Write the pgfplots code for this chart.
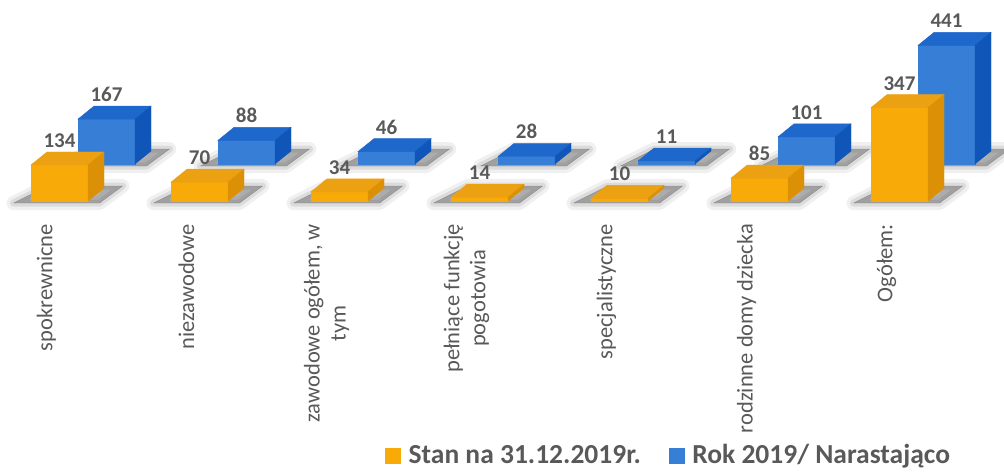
\documentclass[border=0pt]{standalone}
\usepackage{pgfplots}
\pgfplotsset{compat=1.18}
\usepackage{fontspec}
\setmainfont{Carlito}
\definecolor{orF}{RGB}{247,170,8}
\definecolor{orT}{RGB}{236,161,18}
\definecolor{orS}{RGB}{220,144,6}
\definecolor{blF}{RGB}{55,126,214}
\definecolor{blT}{RGB}{30,104,204}
\definecolor{blS}{RGB}{16,86,184}
\definecolor{txt}{RGB}{89,89,89}
\definecolor{shd}{RGB}{70,70,70}

% cuboid drawn at the data point (top centre of the front face), offset by (#1,#2) pt
\newcommand\drawcuboid[5]{%
 \pgfmathsetmacro\hh{\val*0.269}%
 \pgfmathsetmacro\cL{#1-28.5}\pgfmathsetmacro\cR{#1+28.5}%
 \pgfmathsetmacro\cRR{#1+44.5}\pgfmathsetmacro\cLL{#1-12.5}%
 \pgfmathsetmacro\cT{#2}\pgfmathsetmacro\cTT{#2+13}%
 \pgfmathsetmacro\cB{#2-\hh}\pgfmathsetmacro\cBB{#2+13-\hh}%
 \pgfmathsetmacro\sA{#1-46}\pgfmathsetmacro\sB{#1+40}%
 \pgfmathsetmacro\sC{#1+63}\pgfmathsetmacro\sD{#1-12}%
 \pgfmathsetmacro\sY{#2-\hh-2}\pgfmathsetmacro\sZ{#2-\hh+15}%
 \draw[shd, opacity=0.08, line width=14pt, line join=round] (\sA pt,\sY pt) -- (\sB pt,\sY pt) -- (\sC pt,\sZ pt) -- (\sD pt,\sZ pt) -- cycle;
 \draw[shd, opacity=0.12, line width=7pt, line join=round] (\sA pt,\sY pt) -- (\sB pt,\sY pt) -- (\sC pt,\sZ pt) -- (\sD pt,\sZ pt) -- cycle;
 \fill[shd, opacity=0.40] (\sA pt,\sY pt) -- (\sB pt,\sY pt) -- (\sC pt,\sZ pt) -- (\sD pt,\sZ pt) -- cycle;
 \fill[#3] (\cL pt,\cB pt) rectangle (\cR pt,\cT pt);
 \fill[#4] (\cL pt,\cT pt) -- (\cR pt,\cT pt) -- (\cRR pt,\cTT pt) -- (\cLL pt,\cTT pt) -- cycle;
 \fill[#5] (\cR pt,\cT pt) -- (\cRR pt,\cTT pt) -- (\cRR pt,\cBB pt) -- (\cR pt,\cB pt) -- cycle;
}
\pgfdeclareplotmark{cubO}{\drawcuboid{0}{0}{orF}{orT}{orS}}
\pgfdeclareplotmark{cubB}{\drawcuboid{47}{37}{blF}{blT}{blS}}

\begin{document}
\begin{tikzpicture}
\useasboundingbox (0,0) rectangle (1004pt,472pt);
\begin{axis}[
  at={(59.5pt,271pt)}, anchor=origin,
  x=140pt, y=0.269pt,
  xmin=-0.425, xmax=6.746, ymin=-85.5, ymax=700,
  clip=false,
  axis line style={draw=none},
  tick style={draw=none},
  ytick=\empty,
  xtick={0,...,6},
  xticklabels={spokrewnicne, niezawodowe, {zawodowe ogółem, w\\tym}, {pełniące funkcję\\pogotowia}, specjalistyczne, rodzinne domy dziecka, Ogółem:},
  xticklabel style={xshift=-13pt, rotate=90, anchor=east, align=center, inner sep=0pt, font=\fontsize{22.5}{26}\selectfont, text=txt},
  /pgf/number format/assume math mode=true,
  legend style={at={(0.666,-1.093)}, anchor=center, draw=none, fill=none, legend columns=2,
    font=\bfseries\fontsize{27.5}{30}\selectfont, text=txt,
    /tikz/column 1/.style={column sep=6pt},
    /tikz/column 2/.style={column sep=26pt},
    /tikz/column 3/.style={column sep=6pt}},
  legend cell align=left,
]
\addlegendimage{legend image code/.code={\fill[orF] (0pt,-8pt) rectangle (15pt,7pt);}}
\addlegendentry{Stan na 31.12.2019r.}
\addlegendimage{legend image code/.code={\fill[blF] (0pt,-8pt) rectangle (15pt,7pt);}}
\addlegendentry{Rok 2019/ Narastająco}

% blue row (behind)
\addplot[forget plot, only marks, mark=cubB, visualization depends on={rawy \as \val},
  nodes near coords, nodes near coords style={anchor=base, xshift=47pt, yshift=54.5pt, font=\bfseries\fontsize{21}{24}\selectfont, text=txt}]
  coordinates {(0,167) (1,88) (2,46) (3,28) (4,11) (5,101) (6,441)};
% orange row (front)
\addplot[forget plot, only marks, mark=cubO, visualization depends on={rawy \as \val},
  nodes near coords, nodes near coords style={anchor=base, yshift=17.5pt, font=\bfseries\fontsize{21}{24}\selectfont, text=txt}]
  coordinates {(0,134) (1,70) (2,34) (3,14) (4,10) (5,85) (6,347)};
\end{axis}
\end{tikzpicture}
\end{document}
